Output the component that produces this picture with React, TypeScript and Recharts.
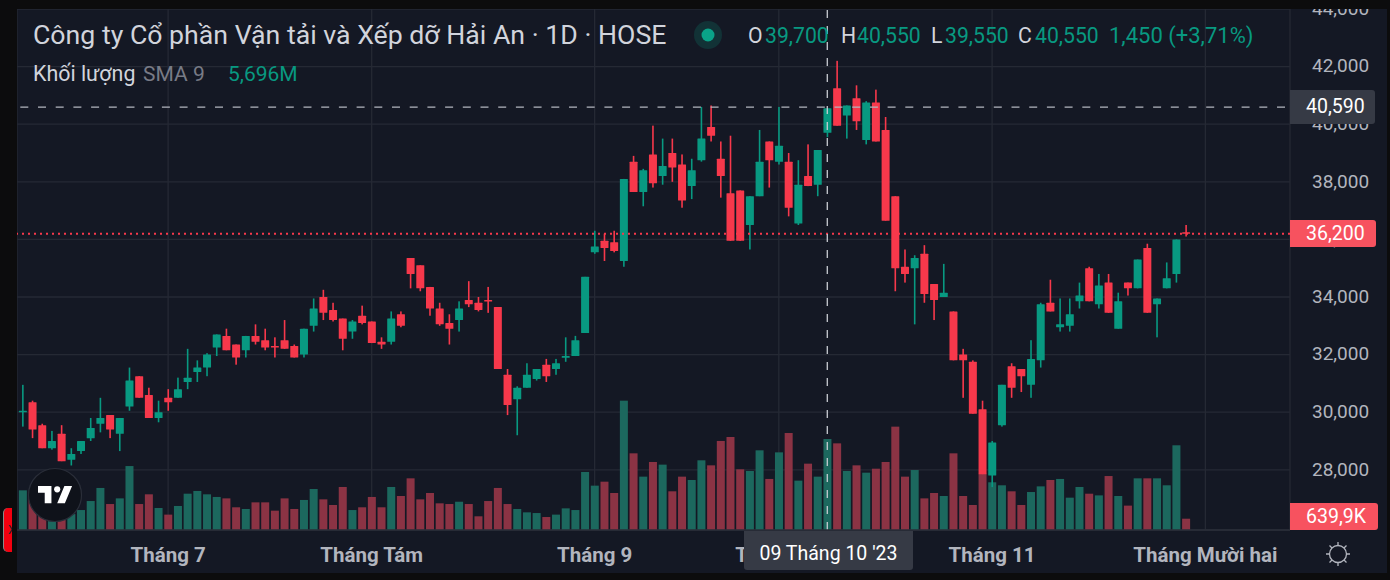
import React from "react";
import { ComposedChart, Bar, XAxis, YAxis, CartesianGrid, ReferenceLine } from "recharts";

const highs = [30950,30400,29600,29350,29550,28750,29000,29800,30500,29900,29800,31550,31250,30850,30400,30800,31200,32200,31800,32050,32700,32900,32350,32650,33050,32900,32600,33200,32350,32900,33950,34250,33800,33250,33200,33700,33150,32600,33500,33500,35350,35100,34350,33800,33400,33850,34550,34000,34350,33650,31500,30900,31700,31500,31850,31850,32600,32650,34700,36300,36200,36300,38100,38900,38450,39950,39500,39500,38950,38800,40600,40650,39400,39600,37700,37500,39800,39400,40600,39000,38750,39300,39100,40550,42200,40650,41350,40800,41200,40250,37500,35650,35450,35800,34450,35150,33500,32200,31800,30400,29000,30950,31700,31500,32500,33800,34600,33950,33950,34500,35050,34800,34800,34150,34500,35300,35850,33950,35200,36000,36500];
const lows = [29500,29100,28750,28700,28300,28150,28550,29000,29300,29100,28650,30050,30500,29800,29650,30050,30500,30800,31050,31250,31950,32150,31650,31900,32350,32150,31900,32200,31900,31900,32800,33200,33150,32150,32550,33050,32400,32200,32350,32950,34300,34200,33350,33000,32350,32800,33650,33500,33450,31500,29900,29200,30850,31100,31050,31300,31750,31950,32750,35500,35250,35550,35050,37650,37150,37800,37900,38000,37100,37400,38700,39400,37450,35950,35950,35650,37500,37800,38600,36800,36500,37850,37500,39550,39950,39500,39800,39300,39400,36650,34200,34500,33050,33800,33200,34000,31800,30500,29950,27850,27400,29500,30500,30700,30500,31550,33500,32800,32800,33600,33850,33600,33450,32900,34050,34300,33450,32600,34300,34500,36100];
const opens = [30000,30350,29550,28750,29250,28350,28650,29100,29600,29900,29250,30200,31250,30600,29800,30500,30500,31050,31400,31550,32250,32650,32350,32150,32650,32500,32300,32500,32300,32000,33000,34000,33550,33250,32800,33350,33150,32450,32450,33400,35350,35100,34350,33600,33100,33200,33900,33800,33900,33650,31300,30450,30850,31150,31650,31500,31900,31950,32750,35550,35950,35900,35250,38700,37650,38950,38200,39000,38600,37850,38750,39900,38800,37600,37700,36500,37500,39400,38700,38700,36550,38200,37900,39700,41250,40300,40900,39450,40750,39800,37500,35050,35000,35500,34450,34000,33500,32000,31750,30100,27800,29550,31600,31500,30950,31800,33800,32950,33000,33850,35000,33750,34500,32900,34500,34300,35700,33750,34300,34800,36250];
const closes = [30050,29400,28750,29000,28300,28550,29000,29450,29800,29400,29800,31100,30500,29800,30000,30350,30800,31200,31550,32000,32700,32150,31900,32650,32450,32250,32250,32200,31900,32900,33600,33450,33200,32550,33150,33100,32400,32350,33250,33000,34800,34300,33600,33050,32900,33600,33750,33550,33850,31500,30250,30850,31300,31500,31250,31700,31950,32500,34700,35750,35700,35600,38100,37650,38400,37950,38550,38500,37350,38400,39500,39600,38200,35950,35950,37500,38700,38750,39250,37100,37900,37850,39100,40550,39950,40650,40100,40750,39400,36650,35000,34800,35350,34100,33900,34150,31800,31800,29950,27850,28950,30950,30850,31250,31850,33750,33500,33050,33400,34050,33850,34400,33450,33850,34300,35300,33450,33950,34650,36000,36200];
const volumes = [2245,2170,1900,1500,1700,900,1130,1640,2380,1470,1790,3620,1470,2020,1245,870,1360,2055,2210,2020,1870,1790,1285,1190,1565,1565,1095,1790,1190,1700,2320,1735,1415,2435,1130,1285,1870,1285,2435,1925,2925,1735,2095,1510,1470,1600,1470,775,1640,2380,1470,1190,1000,960,735,870,1225,1130,3285,2510,2735,2095,7320,4340,3020,3850,3700,2190,3020,2830,3945,3660,5040,5265,3435,3340,4510,2890,4395,5490,2795,3755,3020,5150,4905,3340,3660,3245,3470,3850,5850,3020,3395,1790,2095,1925,4340,1925,1415,3190,2700,2530,2190,1415,2150,2470,2830,2890,1830,2435,2055,1960,3055,1925,1380,2925,2925,2925,2530,4795,639.9];

const EMPTY_SLOTS = 10;
const priceTicks = [28000,30000,32000,34000,36000,38000,40000,42000,44000];
const monthTicks = [15,36,59,78,100,122];
const monthLabels = ["Tháng 7","Tháng Tám","Tháng 9","Tháng 10","Tháng 11","Tháng Mười hai"];
const PRICE_DOMAIN = [25910, 44000];
const VOLUME_DOMAIN = [0, 29490];
const HOVER_INDEX = 83;
const HOVER_PRICE = 40590;
const LAST_PRICE = 36200;

const rows = [...highs.map((h, i) => ({
  day: i, range: [lows[i], h], open: opens[i], close: closes[i], high: h, low: lows[i], volume: volumes[i],
})), ...Array.from({ length: EMPTY_SLOTS }, (_, k) => ({ day: highs.length + k }))];

const GREEN = "#089981";
const RED = "#f7384b";
const VOL_GREEN = "#1c685e";
const VOL_RED = "#8b3344";
const BG = "#141824";
const FRAME = "#0c0c0d";
const FONT = "Roboto, 'Noto Sans', sans-serif";
const PLOT_TOP = 9;
const PLOT_BOTTOM = 530;

const priceY = (p: number) =>
  PLOT_TOP + ((PRICE_DOMAIN[1] - p) / (PRICE_DOMAIN[1] - PRICE_DOMAIN[0])) * (PLOT_BOTTOM - PLOT_TOP);

function Candle(props: any) {
  const { x, y, width, height, payload } = props;
  if (payload == null || payload.high == null) return null;
  const top = Math.min(y, y + height);
  const h = Math.abs(height);
  const k = h / (payload.high - payload.low);
  const up = payload.close >= payload.open;
  const color = up ? GREEN : RED;
  const bTop = top + (payload.high - Math.max(payload.open, payload.close)) * k;
  const bH = Math.max(Math.abs(payload.open - payload.close) * k, 1.6);
  const cx = x + width / 2;
  return (
    <g>
      <rect x={cx - 0.8} y={top} width={1.6} height={h} fill={color} />
      <rect x={x} y={bTop} width={width} height={bH} fill={color} rx={0.5} />
    </g>
  );
}

function VolumeBar(props: any) {
  const { x, y, width, height, payload } = props;
  if (payload == null || payload.volume == null) return null;
  const up = payload.close >= payload.open;
  return <rect x={x} y={y} width={width} height={height} fill={up ? VOL_GREEN : VOL_RED} />;
}

function Tag({ centerY, text, fill, w, h }: any) {
  return (
    <div style={{ position: "absolute", left: 1290, top: centerY - h / 2, width: w, height: h, background: fill, borderRadius: "0 3px 3px 0", color: "#fff", fontFamily: FONT, fontSize: 19.5, lineHeight: `${h}px`, paddingLeft: 16, boxSizing: "border-box" }}>{text}</div>
  );
}

const headerText = (x: number, y: number, size: number, color: string, s: string) => (
  <span style={{ position: "absolute", left: x, top: y - size * 0.72, fontSize: size, lineHeight: `${size * 1.44}px`, color, whiteSpace: "nowrap", fontFamily: FONT }}>{s}</span>
);

export default function App() {
  return (
    <div style={{ position: "absolute", left: 0, top: 0, width: 1390, height: 580, background: BG, overflow: "hidden" }}>
      <ComposedChart width={1390} height={580} data={rows} margin={{ top: PLOT_TOP, right: 0, bottom: 0, left: 17 }} barGap={0}>
        <CartesianGrid stroke="#252934" strokeWidth={1.3} />
        <XAxis dataKey="day" type="category" ticks={monthTicks} interval={0} height={50} padding={{ left: 0.85, right: 2.25 }}
          axisLine={{ stroke: "#2a2e39", strokeWidth: 1.5 }} tickLine={false} tickMargin={11}
          tick={{ fill: "#b2b5be", fontSize: 20.5, fontWeight: 700, fontFamily: FONT }}
          tickFormatter={(v: number) => monthLabels[monthTicks.indexOf(v)]} />
        <XAxis xAxisId="vol" dataKey="day" type="category" hide padding={{ left: 0.85, right: 2.25 }} />
        <YAxis orientation="right" width={100} domain={PRICE_DOMAIN} allowDataOverflow ticks={priceTicks} interval={0}
          axisLine={false} tickLine={false} tickMargin={16} dy={-1}
          tick={{ fill: "#b2b5be", fontSize: 19, fontFamily: FONT }}
          tickFormatter={(v: number) => v.toLocaleString("en-US")} />
        <YAxis yAxisId="vol" hide domain={VOLUME_DOMAIN} allowDataOverflow />
        <Bar xAxisId="vol" yAxisId="vol" dataKey="volume" barSize={8} shape={VolumeBar} isAnimationActive={false} />
        <Bar dataKey="range" barSize={8} shape={Candle} isAnimationActive={false} />
        <ReferenceLine y={LAST_PRICE} stroke="#f7384b" strokeWidth={2} strokeDasharray="2 4" />
        <ReferenceLine y={HOVER_PRICE} stroke="#b2b5be" strokeWidth={1.3} strokeDasharray="8 9.7" strokeDashoffset={-5} />
        <ReferenceLine x={HOVER_INDEX} stroke="#c8cbd2" strokeWidth={1.3} strokeDasharray="8 8" />
      </ComposedChart>

      {/* price and volume tags */}
      <Tag centerY={priceY(HOVER_PRICE)} text="40,590" fill="#363a45" w={85} h={34} />
      <Tag centerY={priceY(LAST_PRICE)} text="36,200" fill="#f7525f" w={86} h={27} />
      <Tag centerY={516.5} text="639,9K" fill="#f7525f" w={88} h={27} />

      {/* hovered date tag */}
      <div style={{ position: "absolute", left: 744, top: 531, width: 169, height: 39, background: "#363a45", borderRadius: "0 0 3px 3px", color: "#fff", fontFamily: FONT, fontSize: 19.5, lineHeight: "46px", textAlign: "center" }}>09 Tháng 10 '23</div>

      {/* legend */}
      {headerText(33, 35, 26.7, "#d1d4dc", "Công ty Cổ phần Vận tải và Xếp dỡ Hải An · 1D · HOSE")}
      <svg style={{ position: "absolute", left: 690, top: 20 }} width={36} height={30}>
        <circle cx={18} cy={15} r={14} fill="#089981" opacity={0.2} />
        <circle cx={18} cy={15} r={6.5} fill="#0aa388" />
      </svg>
      {headerText(748, 36, 21.2, "#d1d4dc", "O")}
      {headerText(765, 36, 21.2, GREEN, "39,700")}
      {headerText(841, 36, 21.2, "#d1d4dc", "H")}
      {headerText(857, 36, 21.2, GREEN, "40,550")}
      {headerText(931, 36, 21.2, "#d1d4dc", "L")}
      {headerText(945, 36, 21.2, GREEN, "39,550")}
      {headerText(1018, 36, 21.2, "#d1d4dc", "C")}
      {headerText(1035, 36, 21.2, GREEN, "40,550")}
      {headerText(1109, 36, 22, GREEN, "1,450 (+3,71%)")}
      {headerText(33, 74, 21.4, "#d1d4dc", "Khối lượng")}
      {headerText(143, 74, 21, "#787b86", "SMA 9")}
      {headerText(228, 74, 21, GREEN, "5,696M")}

      {/* TradingView mark */}
      <svg style={{ position: "absolute", left: 27, top: 467 }} width={56} height={56}>
        <circle cx={28} cy={28} r={26.5} fill="#0f121a" stroke="#2a2e39" strokeWidth={1.2} />
        <g transform="translate(11,19) scale(0.96)" fill="#ffffff">
          <path d="M14 22H7V11H0V4h14v18zM28 22h-8l7.5-18h8L28 22z" transform="translate(0,-4)" />
          <circle cx={20} cy={3.5} r={3.2} />
        </g>
      </svg>

      {/* settings icon */}
      <svg style={{ position: "absolute", left: 1324, top: 540 }} width={28} height={28} fill="none" stroke="#b2b5be" strokeWidth={1.3}>
        <circle cx={14} cy={14} r={8.5} />
        <path d="M14 2v3.5M14 22.5V26M2 14h3.5M22.5 14H26M5.5 5.5l2.5 2.5M20 20l2.5 2.5M5.5 22.5L8 20M20 8l2.5-2.5" />
      </svg>

      {/* device frame */}
      <div style={{ position: "absolute", left: 0, top: 0, width: 1390, height: 9, background: FRAME }} />
      <div style={{ position: "absolute", left: 0, top: 573, width: 1390, height: 7, background: FRAME }} />
      <div style={{ position: "absolute", left: 0, top: 0, width: 17, height: 580, background: FRAME }} />
      <div style={{ position: "absolute", left: 1387, top: 0, width: 3, height: 580, background: FRAME }} />
      <div style={{ position: "absolute", left: 3, top: 508, width: 9, height: 44, background: "#f4000f", borderRadius: "5px 0 0 5px", borderLeft: "1px solid #8a8a8a", boxSizing: "border-box", overflow: "hidden", color: "#222", fontFamily: FONT, fontSize: 12, lineHeight: "44px", paddingLeft: 4 }}>X</div>
    </div>
  );
}
